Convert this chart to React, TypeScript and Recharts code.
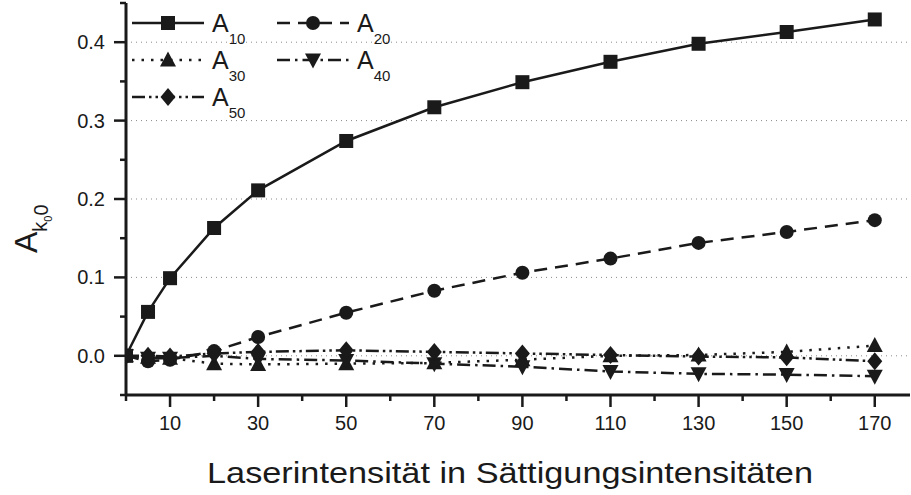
import { Legend, Label, Line, LineChart, ReferenceLine, XAxis, YAxis } from 'recharts';

const FONT = '"Liberation Sans", Arial, Helvetica, sans-serif';
const INK = '#1a1a1a';

// laser intensity in saturation intensities
const intensity = [0, 5, 10, 20, 30, 50, 70, 90, 110, 130, 150, 170];

const a10 = [0, 0.056, 0.099, 0.163, 0.211, 0.274, 0.317, 0.349, 0.375, 0.398, 0.413, 0.429];
const a20 = [0, -0.007, -0.005, 0.006, 0.024, 0.055, 0.083, 0.106, 0.124, 0.144, 0.158, 0.173];
const a30 = [0, -0.002, -0.003, -0.01, -0.011, -0.01, -0.009, -0.005, 0, 0.001, 0.005, 0.013];
const a40 = [0, -0.003, -0.003, 0, -0.004, -0.006, -0.01, -0.014, -0.02, -0.023, -0.024, -0.026];
const a50 = [0, 0, -0.001, 0.003, 0.005, 0.007, 0.005, 0.003, 0.001, -0.001, -0.002, -0.007];

const xTicks = [0, 10, 20, 30, 40, 50, 60, 70, 80, 90, 100, 110, 120, 130, 140, 150, 160, 170];
const xLabeled = [10, 30, 50, 70, 90, 110, 130, 150, 170];
const yTicks = [-0.05, 0, 0.05, 0.1, 0.15, 0.2, 0.25, 0.3, 0.35, 0.4, 0.45];
const yLabeled = [0, 0.1, 0.2, 0.3, 0.4];
const gridLines = [0, 0.1, 0.2, 0.3, 0.4];

const data = intensity.map((x, i) => ({
  x,
  a10: a10[i],
  a20: a20[i],
  a30: a30[i],
  a40: a40[i],
  a50: a50[i],
}));

type Shape = 'square' | 'circle' | 'up' | 'down' | 'diamond';

const series: { key: string; sub: string; shape: Shape; dash?: string; col: number; row: number }[] = [
  { key: 'a10', sub: '10', shape: 'square', col: 0, row: 0 },
  { key: 'a20', sub: '20', shape: 'circle', dash: '13 8', col: 1, row: 0 },
  { key: 'a30', sub: '30', shape: 'up', dash: '2.5 7', col: 0, row: 1 },
  { key: 'a40', sub: '40', shape: 'down', dash: '13 5 2.5 5', col: 1, row: 1 },
  { key: 'a50', sub: '50', shape: 'diamond', dash: '13 4 2.5 4 2.5 4', col: 0, row: 2 },
];

function Marker({ shape, cx, cy }: { shape: Shape; cx: number; cy: number }) {
  switch (shape) {
    case 'square':
      return <rect x={cx - 7} y={cy - 7} width={14} height={14} fill={INK} />;
    case 'circle':
      return <circle cx={cx} cy={cy} r={7} fill={INK} />;
    case 'up':
      return <polygon points={`${cx},${cy - 8.5} ${cx + 8},${cy + 6.5} ${cx - 8},${cy + 6.5}`} fill={INK} />;
    case 'down':
      return <polygon points={`${cx},${cy + 8.5} ${cx + 8},${cy - 6.5} ${cx - 8},${cy - 6.5}`} fill={INK} />;
    default:
      return <polygon points={`${cx},${cy - 9} ${cx + 7.5},${cy} ${cx},${cy + 9} ${cx - 7.5},${cy}`} fill={INK} />;
  }
}

function BottomTick({ x, y, payload }: any) {
  const major = xLabeled.includes(payload.value);
  return (
    <g>
      <line x1={x} x2={x} y1={y} y2={y + (major ? 12 : 6)} stroke={INK} strokeWidth={2.5} />
      {major && (
        <text x={x} y={y + 35} textAnchor="middle" fontSize={20} fill={INK} fontFamily={FONT}>
          {payload.value}
        </text>
      )}
    </g>
  );
}

function TopTick({ x, y }: any) {
  return <line x1={x} x2={x} y1={y} y2={y + 4} stroke={INK} strokeWidth={2} />;
}

function LeftTick({ x, y, payload }: any) {
  const major = yLabeled.some((v) => Math.abs(v - payload.value) < 1e-6);
  return (
    <g>
      <line x1={x - (major ? 12 : 6)} x2={x} y1={y} y2={y} stroke={INK} strokeWidth={2.5} />
      {major && (
        <text x={x - 21} y={y + 7} textAnchor="end" fontSize={20} fill={INK} fontFamily={FONT}>
          {payload.value.toFixed(1)}
        </text>
      )}
    </g>
  );
}

function LegendBox() {
  return (
    <svg width={300} height={125} style={{ display: 'block', overflow: 'visible', fontFamily: FONT }}>
      {series.map((s) => {
        const x0 = s.col === 0 ? 6 : 151;
        const cy = 20 + s.row * 37;
        return (
          <g key={s.key}>
            <line x1={x0} x2={x0 + 72} y1={cy} y2={cy} stroke={INK} strokeWidth={2.5} strokeDasharray={s.dash} />
            <Marker shape={s.shape} cx={x0 + 36} cy={cy} />
            <text x={x0 + 80} y={cy + 9} fontSize={25} fill={INK}>
              A
              <tspan fontSize={15} dy={12}>
                {s.sub}
              </tspan>
            </text>
          </g>
        );
      })}
    </svg>
  );
}

export default function App() {
  return (
    <div style={{ position: 'absolute', left: 0, top: 0, width: 911, height: 495, background: '#fff' }}>
      <LineChart
        width={911}
        height={495}
        data={data}
        margin={{ top: 3, right: 1, bottom: 0, left: 0 }}
        style={{ fontFamily: FONT }}
      >
        <XAxis
          dataKey="x"
          type="number"
          domain={[0, 178]}
          ticks={xTicks}
          interval={0}
          allowDataOverflow
          height={100}
          tickSize={0}
          tickMargin={0}
          tickLine={false}
          tick={<BottomTick />}
          axisLine={{ stroke: INK, strokeWidth: 3 }}
        >
          <Label
            content={() => (
              <text
                x={207}
                y={483}
                fontSize={30}
                fill={INK}
                fontFamily={FONT}
                textLength={606}
                lengthAdjust="spacingAndGlyphs"
              >
                Laserintensität in Sättigungsintensitäten
              </text>
            )}
          />
        </XAxis>
        <XAxis
          xAxisId="top"
          dataKey="x"
          type="number"
          orientation="top"
          domain={[0, 178]}
          ticks={xTicks}
          interval={0}
          allowDataOverflow
          height={0}
          tickSize={0}
          tickMargin={0}
          tickLine={false}
          tick={<TopTick />}
          axisLine={{ stroke: INK, strokeWidth: 3 }}
        />
        <YAxis
          type="number"
          domain={[-0.05, 0.45]}
          ticks={yTicks}
          interval={0}
          allowDataOverflow
          width={126}
          tickSize={0}
          tickMargin={0}
          tickLine={false}
          tick={<LeftTick />}
          axisLine={{ stroke: INK, strokeWidth: 3 }}
        >
          <Label
            content={() => (
              <g transform="translate(37, 253) rotate(-90)">
                <text x={0} y={0} fontSize={32} fill={INK} fontFamily={FONT}>
                  A
                  <tspan fontSize={20} dy={10}>
                    k
                  </tspan>
                  <tspan fontSize={11} dy={5}>
                    0
                  </tspan>
                  <tspan fontSize={20} dy={-4}>
                    0
                  </tspan>
                </text>
              </g>
            )}
          />
        </YAxis>
        {gridLines.map((v) => (
          <ReferenceLine key={v} y={v} stroke="#8a8a8a" strokeWidth={1} strokeDasharray="1 4" />
        ))}
        {series.map((s) => (
          <Line
            key={s.key}
            dataKey={s.key}
            stroke={INK}
            strokeWidth={2.5}
            strokeDasharray={s.dash}
            isAnimationActive={false}
            dot={(p: any) => <Marker key={`${s.key}-${p.index}`} shape={s.shape} cx={p.cx} cy={p.cy} />}
            activeDot={false}
          />
        ))}
        <Legend
          layout="vertical"
          verticalAlign="middle"
          align="center"
          content={() => <LegendBox />}
          wrapperStyle={{ position: 'absolute', left: 126, top: 3, width: 300, height: 125 }}
        />
      </LineChart>
    </div>
  );
}
